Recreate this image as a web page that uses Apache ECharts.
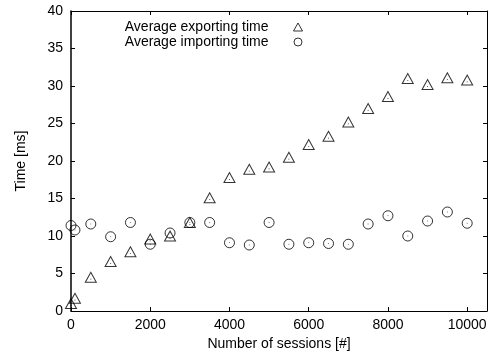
<!DOCTYPE html>
<html>
<head>
<meta charset="utf-8">
<script src="https://cdn.jsdelivr.net/npm/echarts@6/dist/echarts.min.js"></script>
<style>html,body{margin:0;padding:0;background:#fff;}#c{width:490px;height:358px;}</style>
</head>
<body>
<div id="c"></div>
<script>
var sessions = [0, 100, 500, 1000, 1500, 2000, 2500, 3000, 3500, 4000, 4500, 5000, 5500, 6000, 6500, 7000, 7500, 8000, 8500, 9000, 9500, 10000];
var exporting = [1.0, 1.7, 4.5, 6.6, 7.9, 9.6, 10.0, 11.8, 15.1, 17.8, 18.9, 19.2, 20.5, 22.2, 23.3, 25.2, 27.0, 28.6, 31.0, 30.2, 31.1, 30.8];
var importing = [11.4, 10.8, 11.6, 9.9, 11.8, 8.9, 10.4, 11.8, 11.8, 9.1, 8.8, 11.8, 8.9, 9.1, 9.0, 8.9, 11.6, 12.7, 10.0, 12.0, 13.2, 11.7];
var seriesNames = ['Average exporting time', 'Average importing time'];
var xTitle = 'Number of sessions [#]';
var yTitle = 'Time [ms]';

var FONT = 'Liberation Sans';
var FS = 14;
var TRI = 'path://M0,10L5.5,0L11,10Z M5.5,6.6L5.5,7.2';
var CIR = 'path://M5,0A5,5,0,1,1,4.999,0Z M5,4.7L5,5.3';
function pairs(ys) { return sessions.map(function (x, i) { return [x, ys[i]]; }); }
var markStyle = { color: 'transparent', borderColor: '#000', borderWidth: 1 };
var chart = echarts.init(document.getElementById('c'));
var axisLine = { show: true, onZero: false, lineStyle: { color: '#000', width: 1 } };
chart.setOption({
  animation: false,
  backgroundColor: '#fff',
  grid: { left: 71, right: 1, top: 11, bottom: 47 },
  legend: {
    orient: 'vertical', align: 'right', right: 182, top: 15, itemGap: 1,
    itemWidth: 9, itemHeight: 8,
    formatter: function (n) { return '{t|' + n + '}'; },
    textStyle: { fontFamily: FONT, fontSize: FS, color: '#000',
      rich: { t: { fontFamily: FONT, fontSize: FS, color: '#000', padding: [0, 20, 0, 0], lineHeight: 14 } } },
    data: [
      { name: seriesNames[0], icon: 'triangle', itemStyle: { color: 'transparent', borderColor: '#000', borderWidth: 1 } },
      { name: seriesNames[1], icon: 'circle', itemStyle: { color: 'transparent', borderColor: '#000', borderWidth: 1 } }
    ]
  },
  xAxis: [
    { type: 'value', min: 0, max: 10500, interval: 2000, position: 'bottom',
      name: xTitle, nameLocation: 'middle', nameGap: 20,
      nameTextStyle: { fontFamily: FONT, fontSize: FS, color: '#000' },
      axisLine: axisLine, axisTick: { inside: true, length: 4, lineStyle: { color: '#000' } },
      axisLabel: { fontFamily: FONT, fontSize: FS, color: '#000', margin: 7,
        formatter: function (v) { return v % 2000 === 0 ? String(v) : ''; } },
      splitLine: { show: false } },
    { type: 'value', min: 0, max: 10500, interval: 2000, position: 'top',
      axisLine: axisLine, axisTick: { inside: true, length: 4, lineStyle: { color: '#000' } },
      axisLabel: { show: false }, splitLine: { show: false } }
  ],
  yAxis: [
    { type: 'value', min: 0, max: 40, interval: 5, position: 'left',
      name: yTitle, nameLocation: 'middle', nameGap: 43, nameRotate: 90,
      nameTextStyle: { fontFamily: FONT, fontSize: FS, color: '#000' },
      axisLine: { show: true, onZero: false, lineStyle: { color: '#000', width: 1.5 } },
      axisTick: { inside: true, length: 4, lineStyle: { color: '#000' } },
      axisLabel: { fontFamily: FONT, fontSize: FS, color: '#000', margin: 8 },
      splitLine: { show: false } },
    { type: 'value', min: 0, max: 40, interval: 5, position: 'right',
      axisLine: axisLine, axisTick: { inside: true, length: 4, lineStyle: { color: '#000' } },
      axisLabel: { show: false }, splitLine: { show: false } }
  ],
  series: [
    { name: seriesNames[0], type: 'scatter', symbol: TRI, symbolSize: [11, 10],
      itemStyle: markStyle, data: pairs(exporting) },
    { name: seriesNames[1], type: 'scatter', symbol: CIR, symbolSize: 10,
      itemStyle: markStyle, data: pairs(importing) }
  ]
});
</script>
</body>
</html>
